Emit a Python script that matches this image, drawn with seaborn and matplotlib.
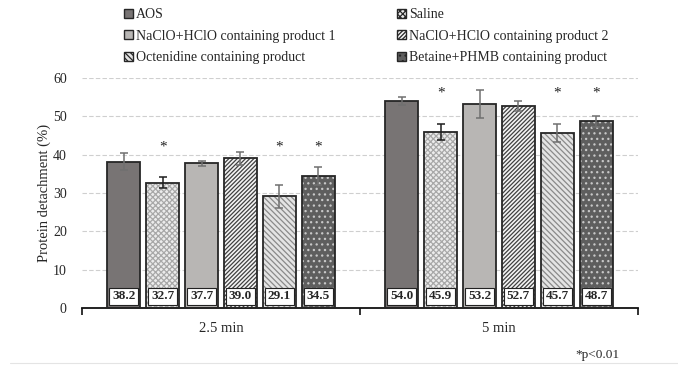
import matplotlib
matplotlib.use("Agg")
import matplotlib.pyplot as plt
import seaborn as sns
import pandas as pd
import numpy as np
from matplotlib.patches import Patch, Rectangle
from matplotlib.lines import Line2D

# ---- data ----
times = ["2.5 min", "5 min"]
products = ["AOS", "Saline", "NaClO+HClO containing product 1",
            "NaClO+HClO containing product 2", "Octenidine containing product",
            "Betaine+PHMB containing product"]
values_25 = [38.2, 32.7, 37.7, 39.0, 29.1, 34.5]
values_5 = [54.0, 45.9, 53.2, 52.7, 45.7, 48.7]
errors_25 = [2.2, 1.4, 0.7, 1.6, 3.0, 2.4]
errors_5 = [1.1, 2.2, 3.7, 1.2, 2.3, 1.4]
significant = [False, True, False, False, True, True]
star_levels = [42, 56]
yticks = [0, 10, 20, 30, 40, 50, 60]

rows = []
for t, vals, errs in [(times[0], values_25, errors_25), (times[1], values_5, errors_5)]:
    for p, v, e, s in zip(products, vals, errs, significant):
        rows.append({"time": t, "product": p, "value": v, "err": e, "sig": s})
df = pd.DataFrame(rows)

# styles: face, hatch, hatch color
styles = {
    products[0]: ("#787474", None, "#787474"),
    products[1]: ("#ececec", "xxxxxx", "#a8a8a8"),
    products[2]: ("#b8b6b4", None, "#b8b6b4"),
    products[3]: ("#f4f4f4", "////////", "#404040"),
    products[4]: ("#e4e4e4", "\\\\\\\\\\\\", "#8a8a8a"),
    products[5]: ("#5e5e5e", "...", "#c8c8c8"),
}
err_colors = {p: ("#1e1e1e" if p == products[1] else "#707070") for p in products}

sns.set_style("white")
plt.rcParams["font.family"] = ["Liberation Serif", "DejaVu Serif"]
plt.rcParams["hatch.linewidth"] = 0.9

fig = plt.figure(figsize=(6.78, 3.70), dpi=100)
ax = fig.add_axes([0.121, 0.1676, 0.820, 0.6216])

sns.barplot(data=df, x="time", y="value", hue="product", order=times,
            hue_order=products, errorbar=None, width=0.84, gap=0.15,
            ax=ax, legend=False)

for cont, p in zip(ax.containers, products):
    face, hatch, hcol = styles[p]
    sub = df[df["product"] == p].set_index("time").loc[times]
    for bar, (t, r) in zip(cont.patches, sub.iterrows()):
        bar.set_facecolor(face)
        bar.set_edgecolor(hcol)
        bar.set_linewidth(0)
        if hatch:
            bar.set_hatch(hatch)
        x0, w, h = bar.get_x(), bar.get_width(), bar.get_height()
        ax.add_patch(Rectangle((x0, 0), w, h, fill=False, edgecolor="#262626",
                               linewidth=1.3, zorder=3))
        cx = x0 + w / 2
        ax.errorbar(cx, h, yerr=r["err"], color=err_colors[p], capsize=3,
                    elinewidth=1.1, capthick=1.1, zorder=4)
        ax.text(cx, 3.0, f"{r['value']:.1f}", ha="center", va="center",
                fontsize=9.5, fontweight="bold", zorder=5,
                bbox=dict(boxstyle="square,pad=0.22", facecolor="white",
                          edgecolor="#222222", linewidth=0.8))
        if r["sig"]:
            ax.text(cx, star_levels[times.index(t)], "*", ha="center",
                    va="center", fontsize=11, color="#222222")

ax.set_ylim(0, 60)
ax.set_xlim(-0.5, 1.5)
ax.set_yticks(yticks)
ax.set_yticklabels([str(v) for v in yticks], fontsize=10)
ax.tick_params(axis="y", length=0, pad=11)
ax.set_xticks([0, 1])
ax.set_xticklabels(times, fontsize=10.5)
ax.tick_params(axis="x", which="major", length=0, pad=10)
ax.set_xticks([-0.5, 0.5, 1.5], minor=True)
ax.tick_params(axis="x", which="minor", length=5, width=1.2, direction="out",
               color="#111111", bottom=True)
ax.set_xlabel("")
ax.set_ylabel("Protein detachment (%)", fontsize=10.5, labelpad=1)
for s in ["left", "top", "right"]:
    ax.spines[s].set_visible(False)
ax.spines["bottom"].set_color("#111111")
ax.spines["bottom"].set_linewidth(1.3)
for yv in yticks[1:]:
    ax.axhline(yv, color="#cfcfcf", linestyle=(0, (4, 2)), linewidth=0.8, zorder=0)

handles = []
for p in [products[0], products[2], products[4], products[1], products[3], products[5]]:
    face, hatch, hcol = styles[p]
    handles.append(Patch(facecolor=face, edgecolor="#262626", hatch=hatch, linewidth=1.0))
labels = [products[0], products[2], products[4], products[1], products[3], products[5]]
fig.legend(handles, labels, loc="upper left", bbox_to_anchor=(0.165, 1.012),
           ncol=2, frameon=False, fontsize=10, handlelength=0.6,
           handleheight=0.6, handletextpad=0.25, columnspacing=4.45,
           labelspacing=0.62)

fig.text(0.848, 0.04, "*p<0.01", fontsize=9.5, ha="left", va="center")
fig.add_artist(Line2D([0.015, 1.0], [0.019, 0.019], color="#e4e4e4", linewidth=0.8))

fig.savefig("out.png", dpi=100)
